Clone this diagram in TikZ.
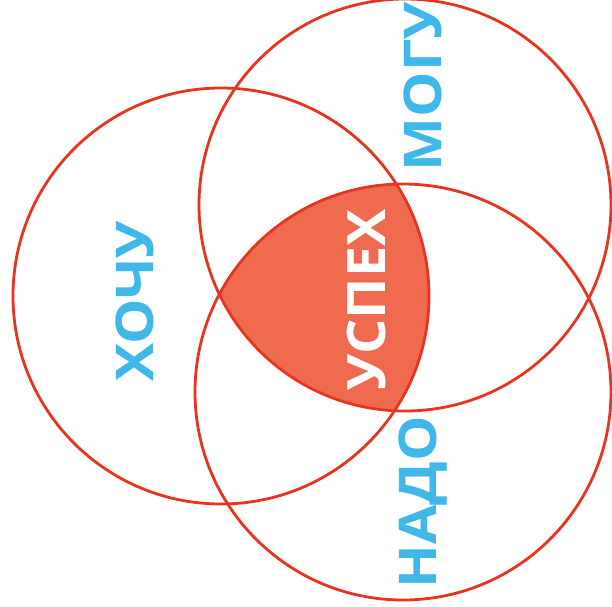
\documentclass[tikz,border=0pt]{standalone}
\usepackage{fontspec}
\setmainfont{Open Sans}
\newfontfamily\lblfont[FakeStretch=1.1]{Open Sans}
\newfontfamily\corefont[FakeStretch=1.05]{Open Sans}
\definecolor{ringred}{HTML}{E8331F}
\definecolor{corefill}{HTML}{F06A50}
\definecolor{skyblue}{HTML}{3FB7E8}
\begin{document}
\begin{tikzpicture}[x=1pt,y=-1pt,
  ring/.style={draw=ringred,line width=2.8pt},
  word/.style={text=skyblue,font=\lblfont\bfseries\fontsize{52}{52}\selectfont,rotate=90,anchor=base,inner sep=0pt},
  coreword/.style={text=white,font=\corefont\bfseries\fontsize{53}{53}\selectfont,rotate=90,anchor=base,inner sep=0pt}]
\useasboundingbox[fill=white] (0,0) rectangle (612,606);
\coordinate (cA) at (221,296);
\coordinate (cB) at (405,205);
\coordinate (cC) at (403,392);
\begin{scope}
  \clip (cA) circle (208);
  \clip (cB) circle (206);
  \fill[corefill] (cC) circle (208);
\end{scope}
\draw[ring] (cA) circle (208);
\draw[ring] (cB) circle (206);
\draw[ring] (cC) circle (208);
\node[word] (want) at (153,301) {ХОЧУ};
\node[word] (can) at (441,87) {МОГУ};
\node[word] (must) at (436,502) {НАДО};
\node[coreword] (success) at (385,300) {УСПЕХ};
\end{tikzpicture}
\end{document}
